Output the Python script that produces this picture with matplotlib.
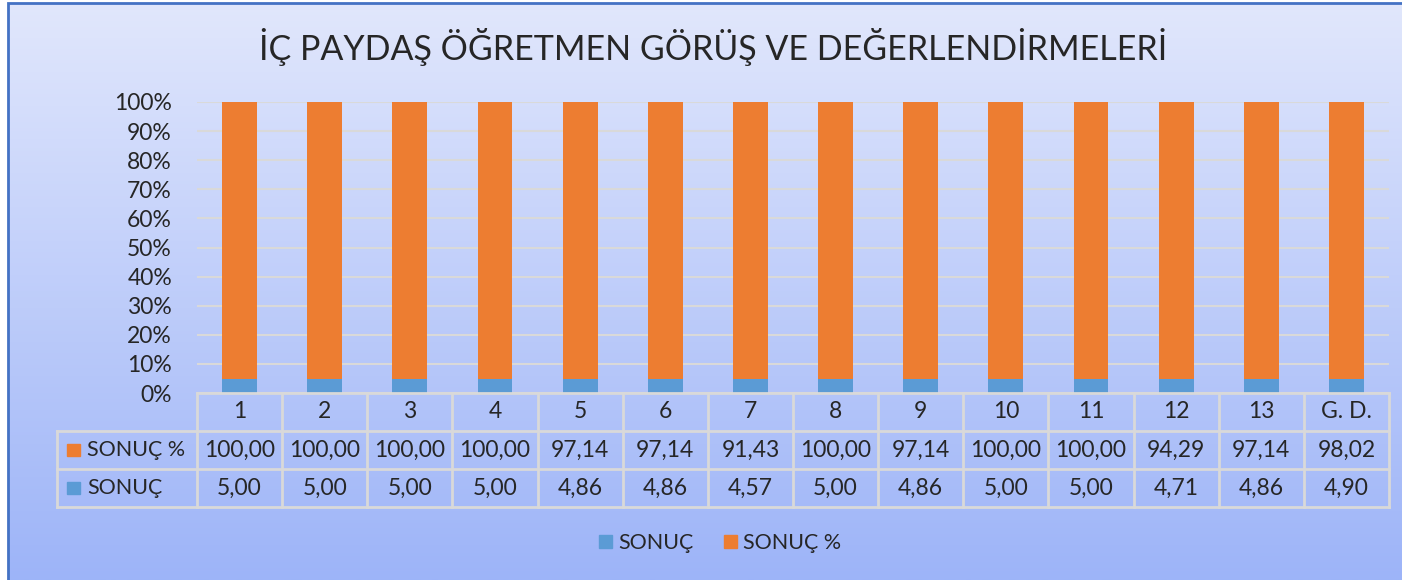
import numpy as np
import matplotlib
matplotlib.use('Agg')
import matplotlib.pyplot as plt
from matplotlib.patches import Patch, Rectangle

categories = ['1', '2', '3', '4', '5', '6', '7', '8', '9', '10', '11', '12', '13', 'G. D.']
sonuc = [5.00, 5.00, 5.00, 5.00, 4.86, 4.86, 4.57, 5.00, 4.86, 5.00, 5.00, 4.71, 4.86, 4.90]
sonuc_pct = [100.00, 100.00, 100.00, 100.00, 97.14, 97.14, 91.43, 100.00, 97.14, 100.00, 100.00, 94.29, 97.14, 98.02]

blue = '#5b9bd5'
orange = '#ed7d31'
grid_c = '#d9d9d9'
txt_c = '#262626'
plt.rcParams['font.family'] = ['Lato', 'DejaVu Sans']

W, H = 1402, 580
fig = plt.figure(figsize=(W / 100, H / 100), dpi=100)
fig.patch.set_facecolor('white')

# background gradient inside the chart frame
bg = fig.add_axes([8 / W, 0, 1 - 8 / W, 1 - 3 / H])
grad = np.linspace(0, 1, 256).reshape(-1, 1)
top = np.array([225, 231, 252]) / 255
bot = np.array([157, 180, 248]) / 255
img = top + (bot - top) * grad[..., None]
bg.imshow(img, aspect='auto', extent=[0, 1, 0, 1])
bg.set_axis_off()
fig.add_artist(Rectangle((8 / W, -0.05), 1.2, 1.05 - 3 / H, transform=fig.transFigure,
                         fill=False, edgecolor='#4472c4', linewidth=2))

# bars (100% stacked)
x = np.arange(len(categories))
tot = np.array(sonuc) + np.array(sonuc_pct)
b_share = np.array(sonuc) / tot
o_share = np.array(sonuc_pct) / tot

ax = fig.add_axes([197 / W, 1 - 393 / H, (1389 - 197) / W, (393 - 102) / H])
ax.set_facecolor('none')
ax.bar(x, b_share, width=0.41, color=blue, zorder=3)
ax.bar(x, o_share, bottom=b_share, width=0.41, color=orange, zorder=3)
ax.set_xlim(-0.5, len(categories) - 0.5)
ax.set_ylim(0, 1)
ax.set_yticks(np.linspace(0, 1, 11))
ax.set_yticklabels([f'{int(round(v * 100))}%' for v in np.linspace(0, 1, 11)], fontsize=16.5, color=txt_c)
ax.tick_params(axis='y', length=0, pad=18)
ax.set_xticks([])
ax.grid(axis='y', color=grid_c, linewidth=1.5, zorder=0)
for s in ax.spines.values():
    s.set_visible(False)

# data table under the axis
tx = fig.add_axes([197 / W, 1 - 507 / H, (1389 - 197) / W, (507 - 393) / H])
tx.set_facecolor('none')
tx.set_xlim(-0.5, len(categories) - 0.5)
tx.set_ylim(3, 0)
tx.set_axis_off()
unit = (1389 - 197) / len(categories)
left = -0.5 - (197 - 57) / unit
lw = 2
for xi in np.arange(-0.5, len(categories), 1.0):
    tx.plot([xi, xi], [0, 3], color=grid_c, lw=lw, clip_on=False)
tx.plot([left, left], [1, 3], color=grid_c, lw=lw, clip_on=False)
tx.plot([-0.5, len(categories) - 0.5], [0, 0], color=grid_c, lw=lw, clip_on=False)
for yi in [1, 2, 3]:
    tx.plot([left, len(categories) - 0.5], [yi, yi], color=grid_c, lw=lw, clip_on=False)

fmt = lambda v: f'{v:.2f}'.replace('.', ',')
fs = 16.5
for i, c in enumerate(categories):
    tx.text(i, 0.5, c, ha='center', va='center', fontsize=fs, color=txt_c)
    tx.text(i, 1.5, fmt(sonuc_pct[i]), ha='center', va='center', fontsize=fs, color=txt_c)
    tx.text(i, 2.5, fmt(sonuc[i]), ha='center', va='center', fontsize=fs, color=txt_c)

sq = 13 / unit
for row, lab, col in [(1.5, 'SONUÇ %', orange), (2.5, 'SONUÇ', blue)]:
    tx.add_patch(Rectangle((left + 10 / unit, row - 0.17), sq, 0.34, color=col, clip_on=False))
    tx.text(left + 30 / unit, row, lab, ha='left', va='center', fontsize=15.5, color=txt_c, clip_on=False)

fig.text(713 / W, 1 - 47 / H, 'İÇ PAYDAŞ ÖĞRETMEN GÖRÜŞ VE DEĞERLENDİRMELERİ',
         ha='center', va='center', fontsize=24.5, color=txt_c)

handles = [Patch(color=blue, label='SONUÇ'), Patch(color=orange, label='SONUÇ %')]
fig.legend(handles=handles, loc='center', bbox_to_anchor=(720 / W, 1 - 543 / H), ncol=2,
           frameon=False, fontsize=15.5, handlelength=0.6, handleheight=0.6,
           handletextpad=0.3, columnspacing=1.4, labelcolor=txt_c)

fig.savefig('out.png', dpi=100)
